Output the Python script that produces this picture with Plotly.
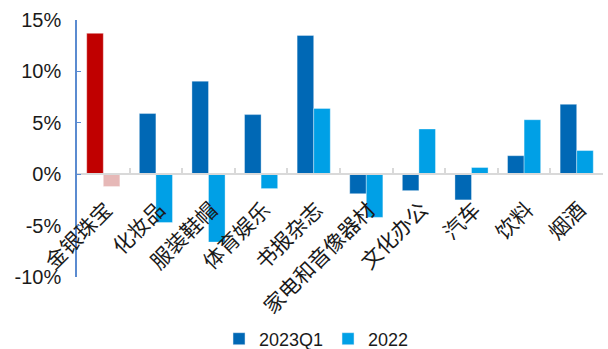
import plotly.graph_objects as go

categories = ["金银珠宝", "化妆品", "服装鞋帽", "体育娱乐", "书报杂志",
              "家电和音像器材", "文化办公", "汽车", "饮料", "烟酒"]
q1_2023 = [13.7, 5.9, 9.05, 5.8, 13.5, -1.9, -1.6, -2.5, 1.8, 6.8]
y2022 = [-1.2, -4.7, -6.6, -1.4, 6.4, -4.2, 4.4, 0.65, 5.3, 2.3]
series_names = ["2023Q1", "2022"]
ytick_vals = [-10, -5, 0, 5, 10, 15]
ytick_text = ["-10%", "-5%", "0%", "5%", "10%", "15%"]

C_Q1 = "#0068B5"
C_22 = "#00A0E6"
C_RED = "#C00000"
C_PINK = "#E6B8B7"

q1_colors = [C_RED] + [C_Q1] * (len(categories) - 1)
c22_colors = [C_PINK] + [C_22] * (len(categories) - 1)

fig = go.Figure()
fig.add_trace(go.Bar(x=categories, y=q1_2023, name=series_names[0], offsetgroup="a",
                     marker=dict(color=q1_colors, line=dict(width=0.6, color="rgba(255,255,255,0.6)")),
                     showlegend=False))
fig.add_trace(go.Bar(x=categories, y=y2022, name=series_names[1], offsetgroup="b",
                     marker=dict(color=c22_colors, line=dict(width=0.6, color="rgba(255,255,255,0.6)")),
                     showlegend=False))
# legend entries
fig.add_trace(go.Bar(x=[categories[0]], y=[None], name=series_names[0], offsetgroup="a",
                     marker=dict(color=C_Q1), showlegend=True))
fig.add_trace(go.Bar(x=[categories[0]], y=[None], name=series_names[1], offsetgroup="b",
                     marker=dict(color=C_22), showlegend=True))

font_fam = "Arial, Liberation Sans, Noto Sans CJK SC, sans-serif"

fig.update_layout(
    width=608, height=349,
    margin=dict(l=77, r=5, t=20, b=72, autoexpand=False),
    paper_bgcolor="white", plot_bgcolor="white",
    barmode="group", bargap=0.37, bargroupgap=0,
    font=dict(family=font_fam, color="#1a1a1a"),
    showlegend=True,
    legend=dict(orientation="h", x=0.27, xanchor="left",
                yref="container", y=(349 - 339) / 349, yanchor="middle",
                font=dict(size=18, family=font_fam, color="#1a1a1a"),
                itemwidth=30, traceorder="normal", entrywidth=64),
    xaxis=dict(
        type="category", range=[-0.5, len(categories) - 0.5],
        anchor="free", position=0.4,
        showline=True, linecolor="#D9D9D9", linewidth=2,
        ticks="inside", tickson="boundaries", ticklen=5, tickcolor="#D9D9D9", tickwidth=1.5,
        tickangle=-45, ticklabelstandoff=14, ticklabelshift=3,
        tickfont=dict(size=21, family="Noto Sans CJK SC, sans-serif", color="#1a1a1a"),
        showgrid=False, zeroline=False,
    ),
    yaxis=dict(
        range=[-10, 15], tickvals=ytick_vals, ticktext=ytick_text,
        showline=True, linecolor="#5B8BD0", linewidth=1.5,
        ticks="inside", ticklen=4, tickcolor="#5B8BD0",
        ticklabelstandoff=10,
        tickfont=dict(size=20, family=font_fam, color="#1a1a1a"),
        showgrid=False, zeroline=False,
    ),
)

fig.write_html("out.html")
